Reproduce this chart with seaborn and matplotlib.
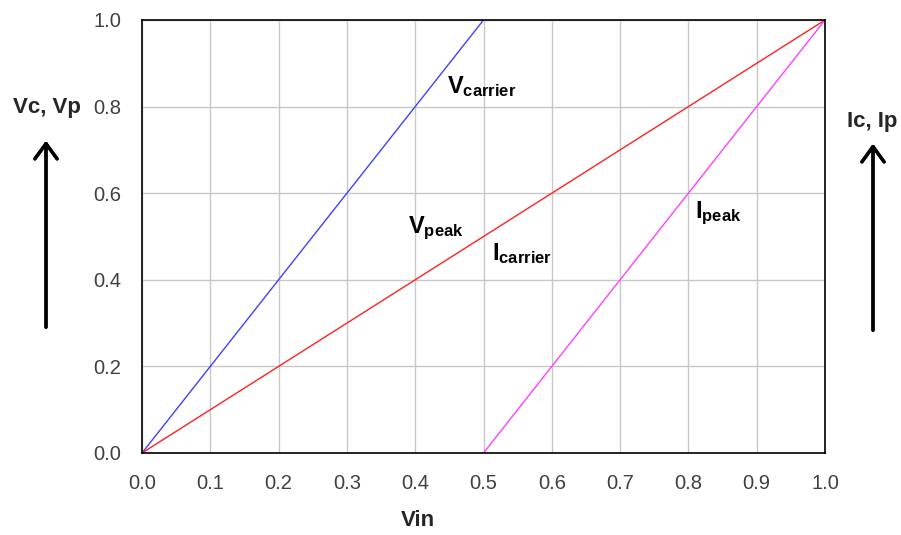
import numpy as np
import seaborn as sns
import matplotlib.pyplot as plt
from matplotlib.ticker import MultipleLocator, FormatStrFormatter

# Data
vin_vcarrier = [0.0, 0.5]
vcarrier = [0.0, 1.0]
vin_red = [0.0, 1.0]
red_vals = [0.0, 1.0]
vin_ipeak = [0.5, 1.0]
ipeak = [0.0, 1.0]

sns.set_style("white")
plt.rcParams["font.family"] = ["Liberation Sans", "DejaVu Sans"]
plt.rcParams["mathtext.fontset"] = "custom"
plt.rcParams["mathtext.rm"] = "Liberation Sans"
plt.rcParams["mathtext.bf"] = "Liberation Sans:bold"

fig = plt.figure(figsize=(9.01, 5.35), dpi=100)
ax = fig.add_axes([142 / 901, 1 - 453 / 535, (825 - 142) / 901, (453 - 20) / 535])

sns.lineplot(x=vin_vcarrier, y=vcarrier, color="#4040ff", lw=1, ax=ax)
sns.lineplot(x=vin_red, y=red_vals, color="#ff2020", lw=1, ax=ax)
sns.lineplot(x=vin_ipeak, y=ipeak, color="#ff40ff", lw=1, ax=ax)

ax.set_xlim(0, 1)
ax.set_ylim(0, 1)
ax.xaxis.set_major_locator(MultipleLocator(0.1))
ax.xaxis.set_minor_locator(MultipleLocator(0.05))
ax.yaxis.set_major_locator(MultipleLocator(0.2))
ax.yaxis.set_minor_locator(MultipleLocator(0.1))
ax.xaxis.set_major_formatter(FormatStrFormatter("%.1f"))
ax.yaxis.set_major_formatter(FormatStrFormatter("%.1f"))

ax.grid(True, which="major", color="#c8c8c8", lw=1)
ax.tick_params(which="major", direction="out", length=12, width=1.2, color="black",
               labelsize=14.5, labelcolor="#404040", pad=3)
ax.tick_params(which="minor", direction="out", length=6, width=1.2, color="black")
for s in ax.spines.values():
    s.set_color("black")
    s.set_linewidth(1.2)

# curve labels
lab = dict(fontsize=17, color="black", ha="left", va="baseline")
ax.text(0.447, 0.831, r"$\mathbf{V_{carrier}}$", **lab)
ax.text(0.389, 0.508, r"$\mathbf{V_{peak}}$", **lab)
ax.text(0.512, 0.446, r"$\mathbf{I_{carrier}}$", **lab)
ax.text(0.810, 0.543, r"$\mathbf{I_{peak}}$", **lab)

# axis labels and arrows
fig.text(418 / 901, 1 - 521 / 535, "Vin", fontsize=16, fontweight="bold", ha="center", va="center")
fig.text(47 / 901, 1 - 107 / 535, "Vc, Vp", fontsize=16, fontweight="bold", ha="center", va="center")
fig.text(872 / 901, 1 - 121 / 535, "Ic, Ip", fontsize=16, fontweight="bold", ha="center", va="center")
arrow = dict(arrowstyle="->,head_length=1.1,head_width=0.8", lw=2.4, color="black")
fig.add_artist(plt.annotate("", xy=(46 / 901, 1 - 138 / 535), xytext=(46 / 901, 1 - 330 / 535),
                            xycoords="figure fraction", arrowprops=arrow))
fig.add_artist(plt.annotate("", xy=(873 / 901, 1 - 141 / 535), xytext=(873 / 901, 1 - 333 / 535),
                            xycoords="figure fraction", arrowprops=arrow))

fig.savefig("out.png", dpi=100)
